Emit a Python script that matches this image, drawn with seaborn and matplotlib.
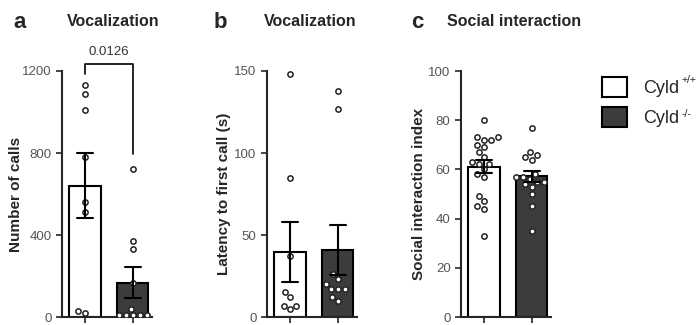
from matplotlib import pyplot as plt
from matplotlib.patches import Patch
import numpy as np
import pandas as pd
import seaborn as sns

sns.set_style('ticks')
plt.rcParams['font.family'] = ['Liberation Sans', 'DejaVu Sans']

groups = ['Cyld+/+', 'Cyld-/-']
legend_names = ['Cyld', 'Cyld']
legend_sups = ['+/+', '-/-']

# panel a: number of calls
calls_wt = [1130, 1090, 1010, 780, 560, 510, 20, 30]
calls_ko = [720, 370, 330, 168, 40, 8, 8, 8, 8, 8]

# panel b: latency to first call (s)
latency_wt = [148, 85, 37, 15, 12, 7, 5, 7]
latency_ko = [138, 127, 26, 23, 20, 17, 17, 17, 12, 10]

# panel c: social interaction index
social_wt = [80, 73, 72, 73, 70, 69, 72, 67, 65, 62, 63, 62, 60, 58, 57, 49, 47, 45, 44, 33]
social_ko = [77, 67, 66, 64, 65, 58, 57, 57, 56, 55, 55, 54, 53, 50, 45, 35]

colors = ['white', '#3c3c3c']


def frame(wt, ko):
    return pd.DataFrame({'group': [groups[0]] * len(wt) + [groups[1]] * len(ko),
                         'value': wt + ko})


def panel(ax, wt, ko, ymax, ticks, ylabel, label_x):
    df = frame(wt, ko)
    sns.barplot(x='group', y='value', data=df, hue='group', palette=colors, order=groups,
                errorbar='se', capsize=0.33, width=0.65, linewidth=1.5, edgecolor='black',
                err_kws={'color': 'black', 'linewidth': 1.5, 'zorder': 10}, legend=False, ax=ax)
    sns.swarmplot(x='group', y='value', data=df, order=groups, color='white', edgecolor='#222222',
                  linewidth=1.1, size=3.8, ax=ax)
    ax.set_xlim(-0.48, 1.4)
    ax.set_ylim(0, ymax)
    ax.set_yticks(ticks)
    ax.set_xticks([0, 1])
    ax.set_xticklabels([])
    ax.set_xlabel('')
    ax.set_ylabel(ylabel, fontsize=11, fontweight='bold')
    ax.yaxis.set_label_coords(label_x, 0.5)
    ax.tick_params(axis='y', labelsize=9.5, labelcolor='#555555', width=1.2, length=4)
    ax.tick_params(axis='x', width=1.2, length=4)
    for s in ['left', 'bottom']:
        ax.spines[s].set_linewidth(1.5)
    sns.despine(ax=ax)


fig = plt.figure(figsize=(7, 3.25), dpi=100)
ax_a = fig.add_axes([62 / 700, 8 / 325, 90 / 700, 246 / 325])
ax_b = fig.add_axes([267 / 700, 8 / 325, 90 / 700, 246 / 325])
ax_c = fig.add_axes([461 / 700, 8 / 325, 90 / 700, 246 / 325])

panel(ax_a, calls_wt, calls_ko, 1200, [0, 400, 800, 1200], 'Number of calls', -0.43)
panel(ax_b, latency_wt, latency_ko, 150, [0, 50, 100, 150], 'Latency to first call (s)', -0.4)
panel(ax_c, social_wt, social_ko, 100, [0, 20, 40, 60, 80, 100], 'Social interaction index', -0.39)

# significance bracket
ax_a.plot([0, 0, 1, 1], [1186, 1232, 1232, 795], color='black', lw=1.2, clip_on=False)
ax_a.text(0.5, 1262, '0.0126', ha='center', va='bottom', fontsize=9.5, color='#333333')

for x, letter in [(20, 'a'), (220, 'b'), (417, 'c')]:
    fig.text(x / 700, 1 - 22 / 325, letter, ha='center', va='center', fontsize=16, fontweight='bold')
fig.text(113 / 700, 1 - 22 / 325, 'Vocalization', ha='center', va='center', fontsize=11.5, fontweight='bold')
fig.text(310 / 700, 1 - 22 / 325, 'Vocalization', ha='center', va='center', fontsize=11.5, fontweight='bold')
fig.text(447 / 700, 1 - 22 / 325, 'Social interaction', ha='left', va='center', fontsize=11.5, fontweight='bold')

handles = [Patch(facecolor=c, edgecolor='black', linewidth=1.5) for c in colors]
fig.legend(handles, legend_names, loc='upper left', bbox_to_anchor=(595 / 700, 1 - 70 / 325),
           frameon=False, fontsize=13, handlelength=1.35, handleheight=1.35,
           handletextpad=0.9, labelspacing=0.5, borderaxespad=0)
for y, sup in zip([80, 114], legend_sups):
    fig.text(682 / 700, 1 - y / 325, sup, ha='left', va='center', fontsize=7.5)

fig.savefig('out.png', dpi=100)
